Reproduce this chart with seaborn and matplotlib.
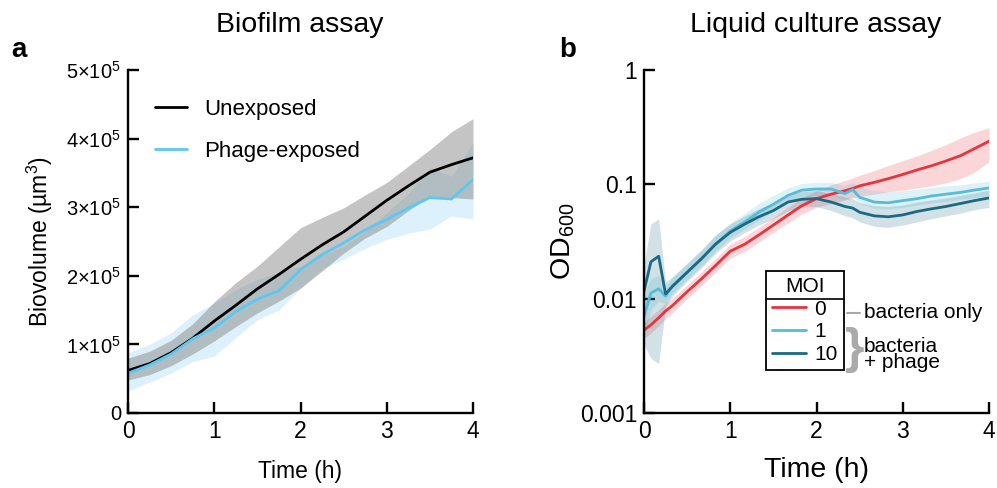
import pandas as pd
import seaborn as sns
import matplotlib.pyplot as plt
from matplotlib.lines import Line2D

# ---- panel a: biofilm biovolume (um^3) ----
bio_time = [0, 0.25, 0.5, 0.75, 1.0, 1.25, 1.5, 1.75, 2.0, 2.25, 2.5, 2.75, 3.0, 3.25, 3.5, 3.75, 4.0]
unexp_mean = [62000, 72000, 88000, 109000, 134000, 157000, 181000, 202000, 224000, 245000, 264000, 287000, 310000, 331000, 351000, 362000, 372000]
unexp_lo = [48000, 56000, 69000, 86000, 105000, 126000, 146000, 163000, 182000, 207000, 233000, 255000, 272000, 295000, 316000, 314000, 312000]
unexp_hi = [80000, 90000, 106000, 130000, 162000, 190000, 214000, 242000, 270000, 285000, 299000, 318000, 336000, 360000, 384000, 410000, 429000]
phage_mean = [58000, 70000, 86000, 108000, 124000, 148000, 166000, 178000, 209000, 231000, 248000, 267000, 282000, 299000, 314000, 312000, 340000]
phage_lo = [32000, 45000, 58000, 75000, 83000, 110000, 136000, 150000, 182000, 210000, 224000, 240000, 253000, 262000, 268000, 287000, 283000]
phage_hi = [88000, 100000, 117000, 143000, 160000, 180000, 195000, 205000, 214000, 230000, 243000, 265000, 292000, 320000, 357000, 345000, 394000]
bio_yticks = [0, 100000, 200000, 300000, 400000, 500000]
bio_yticklabels = ["0", "1×10$^5$", "2×10$^5$", "3×10$^5$", "4×10$^5$", "5×10$^5$"]

# ---- panel b: liquid culture OD600 ----
od_time = [0, 0.08, 0.17, 0.25, 0.33, 0.5, 0.67, 0.83, 1.0, 1.17, 1.33, 1.5, 1.67, 1.83,
           2.0, 2.17, 2.33, 2.42, 2.5, 2.67, 2.83, 3.0, 3.17, 3.33, 3.5, 3.67, 3.83, 4.0]
moi0_mean = [0.0053, 0.0059, 0.0068, 0.0078, 0.0087, 0.0115, 0.0150, 0.0195, 0.026, 0.030, 0.036, 0.044, 0.054, 0.065,
             0.075, 0.082, 0.088, 0.092, 0.097, 0.104, 0.112, 0.122, 0.134, 0.145, 0.160, 0.178, 0.205, 0.238]
moi0_lo = [0.0045, 0.0050, 0.0058, 0.0067, 0.0075, 0.0100, 0.0131, 0.0170, 0.0226, 0.026, 0.031, 0.038, 0.046, 0.055,
           0.063, 0.068, 0.073, 0.076, 0.079, 0.082, 0.086, 0.089, 0.093, 0.097, 0.103, 0.112, 0.127, 0.158]
moi0_hi = [0.0062, 0.0070, 0.0080, 0.0091, 0.0101, 0.0132, 0.0172, 0.0224, 0.0300, 0.035, 0.042, 0.051, 0.063, 0.076,
           0.088, 0.099, 0.108, 0.114, 0.120, 0.132, 0.146, 0.161, 0.178, 0.198, 0.222, 0.255, 0.285, 0.313]
moi1_mean = [0.0070, 0.0112, 0.0122, 0.0105, 0.0130, 0.0170, 0.0225, 0.030, 0.039, 0.047, 0.057, 0.067, 0.080, 0.089,
             0.091, 0.091, 0.083, 0.090, 0.077, 0.070, 0.069, 0.072, 0.075, 0.079, 0.082, 0.085, 0.089, 0.093]
moi1_lo = [0.0045, 0.0080, 0.0095, 0.0090, 0.0112, 0.0148, 0.0195, 0.026, 0.034, 0.041, 0.049, 0.058, 0.069, 0.077,
           0.080, 0.080, 0.074, 0.078, 0.068, 0.062, 0.061, 0.063, 0.066, 0.069, 0.071, 0.074, 0.077, 0.080]
moi1_hi = [0.011, 0.015, 0.016, 0.0125, 0.0155, 0.0200, 0.0265, 0.036, 0.046, 0.056, 0.068, 0.080, 0.093, 0.102,
           0.104, 0.104, 0.098, 0.104, 0.094, 0.088, 0.086, 0.088, 0.091, 0.094, 0.097, 0.099, 0.103, 0.107]
moi10_mean = [0.0116, 0.0210, 0.0235, 0.0110, 0.0128, 0.0170, 0.0225, 0.030, 0.038, 0.045, 0.052, 0.059, 0.070, 0.074,
              0.075, 0.070, 0.064, 0.062, 0.057, 0.053, 0.052, 0.054, 0.058, 0.061, 0.064, 0.068, 0.072, 0.076]
moi10_lo = [0.0040, 0.0030, 0.0027, 0.0085, 0.0105, 0.0142, 0.0188, 0.025, 0.032, 0.038, 0.044, 0.050, 0.059, 0.063,
            0.064, 0.059, 0.053, 0.051, 0.047, 0.043, 0.042, 0.044, 0.047, 0.050, 0.053, 0.056, 0.060, 0.063]
moi10_hi = [0.020, 0.045, 0.050, 0.014, 0.0155, 0.0205, 0.0270, 0.036, 0.045, 0.053, 0.061, 0.069, 0.082, 0.087,
            0.088, 0.083, 0.077, 0.075, 0.069, 0.065, 0.064, 0.066, 0.070, 0.073, 0.076, 0.080, 0.084, 0.089]
moi_levels = ["0", "1", "10"]
od_yticks = [0.001, 0.01, 0.1, 1]
od_yticklabels = ["0.001", "0.01", "0.1", "1"]

sns.set_style("ticks")
plt.rcParams["font.family"] = ["Liberation Sans", "DejaVu Sans"]
plt.rcParams["mathtext.fontset"] = "custom"
plt.rcParams["mathtext.rm"] = "Liberation Sans"
plt.rcParams["mathtext.it"] = "Liberation Sans:italic"
plt.rcParams["mathtext.bf"] = "Liberation Sans:bold"
for k in ("text.color", "axes.labelcolor", "xtick.color", "ytick.color", "axes.edgecolor"):
    plt.rcParams[k] = "black"

fig = plt.figure(figsize=(9.97, 4.88), dpi=100)
ax1 = fig.add_axes([128 / 997, 75 / 488, 345 / 997, 343 / 488])
ax2 = fig.add_axes([644 / 997, 75 / 488, 345 / 997, 343 / 488])

# panel a
bio = pd.DataFrame({
    "Time": bio_time * 2,
    "Biovolume": unexp_mean + phage_mean,
    "group": ["Unexposed"] * len(bio_time) + ["Phage-exposed"] * len(bio_time),
})
ax1.fill_between(bio_time, phage_lo, phage_hi, color="#a8dcf5", alpha=0.4, lw=0)
ax1.fill_between(bio_time, unexp_lo, unexp_hi, color="#8a8a8a", alpha=0.5, lw=0)
sns.lineplot(data=bio, x="Time", y="Biovolume", hue="group", ax=ax1,
             palette={"Unexposed": "black", "Phage-exposed": "#5cc8f2"}, lw=2)
ax1.set_xlim(0, 4)
ax1.set_ylim(0, 500000)
ax1.set_xticks([0, 1, 2, 3, 4])
ax1.set_yticks(bio_yticks)
ax1.set_yticklabels(bio_yticklabels, fontsize=14.5)
ax1.tick_params(axis="x", labelsize=16.5)
ax1.set_xlabel("Time (h)", fontsize=16.5, labelpad=12)
ax1.set_ylabel("Biovolume (µm$^3$)", fontsize=16.5, labelpad=8)
h, l = ax1.get_legend_handles_labels()
ax1.legend(h, l, loc="upper left", bbox_to_anchor=(0.02, 0.975), frameon=False, fontsize=16,
           handlelength=1.45, handletextpad=0.75, labelspacing=0.95)

# panel b
rows = []
for lev, vals in zip(moi_levels, [moi0_mean, moi1_mean, moi10_mean]):
    for t, v in zip(od_time, vals):
        rows.append({"Time": t, "OD": v, "MOI": lev})
od = pd.DataFrame(rows)
moi_colors = {"0": "#e8343f", "1": "#55bcd9", "10": "#1a6a84"}
ax2.fill_between(od_time, moi0_lo, moi0_hi, color=moi_colors["0"], alpha=0.2, lw=0)
ax2.fill_between(od_time, moi1_lo, moi1_hi, color=moi_colors["1"], alpha=0.2, lw=0)
ax2.fill_between(od_time, moi10_lo, moi10_hi, color=moi_colors["10"], alpha=0.2, lw=0)
sns.lineplot(data=od, x="Time", y="OD", hue="MOI", hue_order=moi_levels, palette=moi_colors, ax=ax2, lw=2)
ax2.set_yscale("log")
ax2.set_xlim(0, 4)
ax2.set_ylim(0.001, 1)
ax2.set_xticks([0, 1, 2, 3, 4])
ax2.set_yticks(od_yticks)
ax2.set_yticklabels(od_yticklabels)
ax2.minorticks_off()
ax2.tick_params(axis="both", labelsize=16.5)
ax2.set_xlabel("Time (h)", fontsize=20.5, labelpad=10)
ax2.set_ylabel("OD$_{600}$", fontsize=20.5, labelpad=2)
h, l = ax2.get_legend_handles_labels()
leg = ax2.legend(h, l, title="MOI", loc="upper left", bbox_to_anchor=(0.354, 0.415), borderaxespad=0,
                 fontsize=15, title_fontsize=15, handlelength=1.6, handletextpad=0.4, labelspacing=0.18,
                 fancybox=False, framealpha=1, edgecolor="black", borderpad=0.3)
leg.get_frame().set_linewidth(1.3)

for ax in (ax1, ax2):
    sns.despine(ax=ax)
    for s in ("left", "bottom"):
        ax.spines[s].set_linewidth(1.7)
    ax.tick_params(direction="in", length=8, width=1.7, pad=5)

# annotations beside the MOI legend
fig.add_artist(Line2D([847 / 997, 860 / 997], [1 - 313 / 488, 1 - 313 / 488], color="#aaaaaa", lw=1.5))
fig.text(864 / 997, 1 - 313 / 488, "bacteria only", fontsize=15, va="center", ha="left")
fig.text(864 / 997, 1 - 355 / 488, "bacteria\n+ phage", fontsize=15, va="center", ha="left", linespacing=0.8)
fig.text(845 / 997, 1 - 350 / 488, "}", fontsize=36, va="center", ha="left", color="#aaaaaa", weight="bold")

# titles and panel letters
fig.text(300 / 997, 1 - 25 / 488, "Biofilm assay", fontsize=20.5, ha="center", va="center")
fig.text(816 / 997, 1 - 25 / 488, "Liquid culture assay", fontsize=20.5, ha="center", va="center")
fig.text(11 / 997, 1 - 57 / 488, "a", fontsize=20, weight="bold", va="baseline")
fig.text(559 / 997, 1 - 57 / 488, "b", fontsize=20, weight="bold", va="baseline")

# line under the legend title
fig.canvas.draw()
r = fig.canvas.get_renderer()
fb = leg.get_frame().get_window_extent(r)
tb = leg.get_title().get_window_extent(r)
ysep = tb.y0 - 3
fig.add_artist(Line2D([fb.x0 / 997, fb.x1 / 997], [ysep / 488, ysep / 488], color="black", lw=1.2))

fig.savefig("out.png", dpi=100)
